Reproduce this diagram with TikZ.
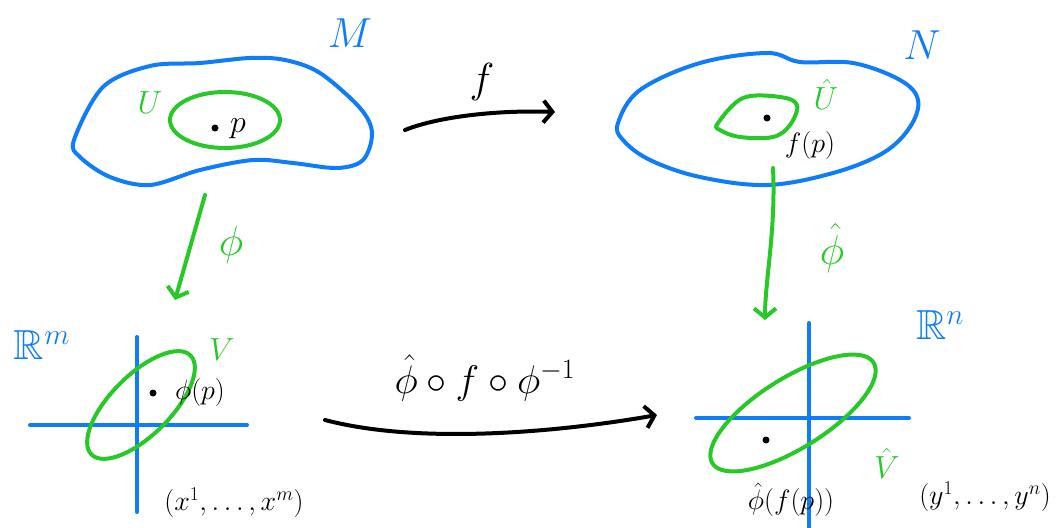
\RequirePackage{fix-cm}
\documentclass[tikz,border=0pt]{standalone}
\usepackage{amssymb}
\usetikzlibrary{arrows.meta}
\definecolor{hblue}{RGB}{15,125,250}
\definecolor{hgreen}{RGB}{40,200,40}
\begin{document}
\begin{tikzpicture}[x=1pt,y=-1pt,line cap=round,line join=round,
  ink/.style={line width=4pt},
  tipped/.style={ink,-{Straight Barb[length=9pt,width=22pt]}},
  lbl/.style={inner sep=0pt,outer sep=0pt},
  big/.style={lbl,font=\fontsize{42}{44}\selectfont},
  mid/.style={lbl,font=\fontsize{32}{34}\selectfont},
  small/.style={lbl,font=\fontsize{28}{30}\selectfont}]
\useasboundingbox (0,0) rectangle (1062,527);
% ---- M ----
\draw[ink,hblue] plot[smooth cycle,tension=0.55] coordinates {(74,140) (103,87) (150,66) (200,63) (250,58) (285,60) (320,73) (360,108) (372,133) (363,160) (337,168) (293,163) (253,160) (200,170) (150,185) (110,177) (80,157)};
\draw[ink,hgreen] (225,120) ellipse [x radius=55, y radius=28];
\node[big,hblue] (Mlbl) at (350,33) {$M$};
\node[mid,hgreen] (Ulbl) at (150,103) {$U$};
\fill (215,128) circle (3.5pt);
\node[mid] (plbl) at (238,129) {$p$};
% ---- N ----
\draw[ink,hblue] plot[smooth cycle,tension=0.6] coordinates {(618,123) (640,90) (700,63) (767,53) (800,62) (853,63) (900,80) (918,100) (910,127) (883,153) (833,173) (767,185) (700,177) (650,160) (623,140)};
\draw[ink,hgreen] plot[smooth cycle,tension=0.6] coordinates {(718,123) (743,98) (780,97) (797,105) (790,125) (773,137) (740,137) (720,130)};
\node[big,hblue] (Nlbl) at (922,45) {$N$};
\node[mid,hgreen] (Uhlbl) at (826,94) {$\hat U$};
\fill (767,118) circle (3.5pt);
\node[small] (fplbl) at (810,146) {$f(p)$};
% ---- f arrow ----
\coordinate (fs) at (405,130);
\coordinate (fe) at (555,112);
\draw[tipped] (fs) .. controls (440,116) and (500,110) .. (fe);
\node[big] (flbl) at (482,82) {$f$};
% ---- phi arrows ----
\coordinate (ps) at (205,195);
\coordinate (pe) at (175,300);
\draw[tipped,hgreen] (ps) -- (pe);
\node[big,hgreen] (philbl) at (231,245) {$\phi$};
\coordinate (qs) at (773,168);
\coordinate (qe) at (765,320);
\draw[tipped,hgreen] (qs) .. controls (776,230) and (765,280) .. (qe);
\node[big,hgreen] (phihlbl) at (832,248) {$\hat\phi$};
% ---- R^m ----
\node[big,hblue] (Rm) at (42,345) {$\mathbb{R}^m$};
\coordinate (ay1) at (137,337); \coordinate (ay2) at (137,512);
\coordinate (ax1) at (30,425); \coordinate (ax2) at (247,425);
\draw[ink,hblue] (ay1) -- (ay2);
\draw[ink,hblue] (ax1) -- (ax2);
\draw[ink,hgreen,rotate around={45:(141,405)}] (141,405) ellipse [x radius=70, y radius=30];
\node[mid,hgreen] (Vlbl) at (222,350) {$V$};
\fill (153,393) circle (3.5pt);
\node[small] (phiplbl) at (200,392) {$\phi(p)$};
\node[small] (xcoord) at (234,503) {$(x^1,\ldots,x^m)$};
% ---- R^n ----
\node[big,hblue] (Rn) at (940,325) {$\mathbb{R}^n$};
\coordinate (by1) at (809,323); \coordinate (by2) at (809,527);
\coordinate (bx1) at (696,418); \coordinate (bx2) at (909,418);
\draw[ink,hblue] (by1) -- (by2);
\draw[ink,hblue] (bx1) -- (bx2);
\draw[ink,hgreen,rotate around={32:(793,413)}] (793,413) ellipse [x radius=95, y radius=35];
\node[mid,hgreen] (Vhlbl) at (887,463) {$\hat V$};
\fill (766,440) circle (3.5pt);
\node[small] (phifp) at (791,500) {$\hat\phi(f(p))$};
\node[small] (ycoord) at (985,497) {$(y^1,\ldots,y^n)$};
% ---- composite arrow ----
\coordinate (cs) at (325,420);
\coordinate (ce) at (657,415);
\draw[tipped] (cs) .. controls (420,445) and (560,432) .. (ce);
\node[lbl,font=\fontsize{40}{42}\selectfont] (complbl) at (485,378) {$\hat\phi\circ f\circ\phi^{-1}$};
\end{tikzpicture}
\end{document}
